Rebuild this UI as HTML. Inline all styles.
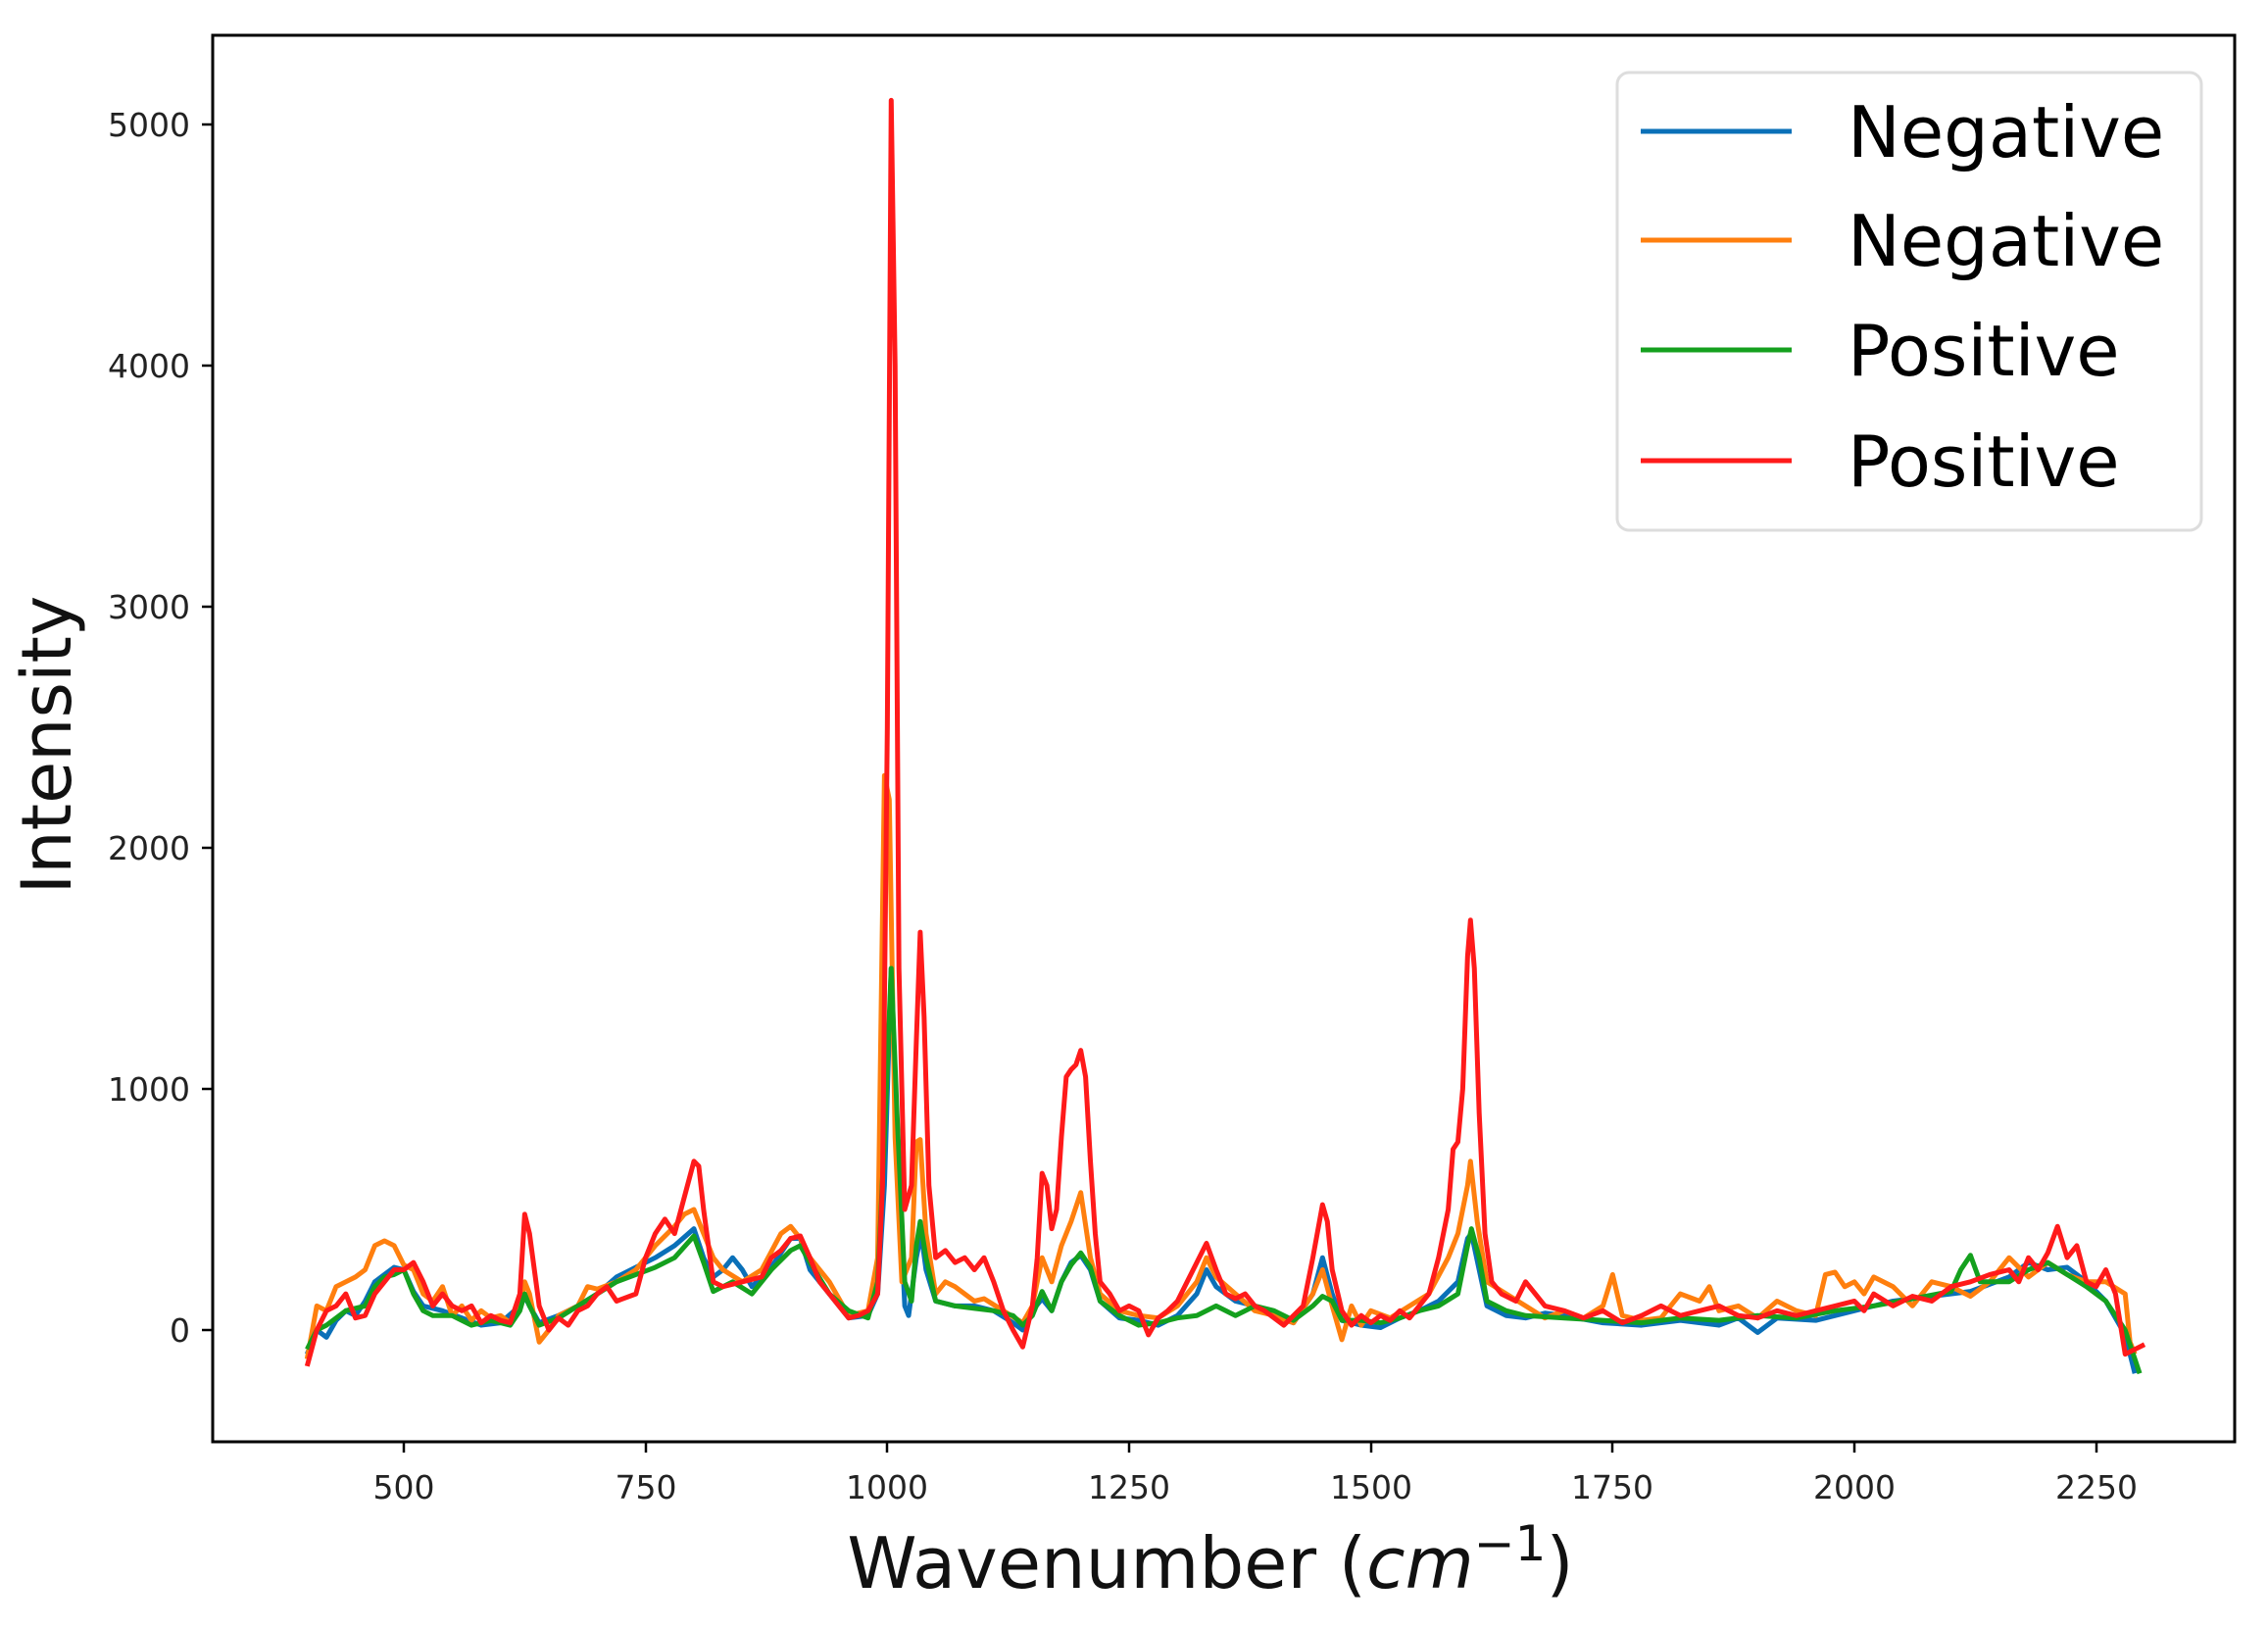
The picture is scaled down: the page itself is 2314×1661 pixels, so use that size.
<!DOCTYPE html>
<html><head><meta charset="utf-8"><style>
html,body{margin:0;padding:0;background:#fff;}
svg{display:block;font-family:"DejaVu Sans","Liberation Sans",sans-serif;}
</style></head><body>
<svg width="2314" height="1661" viewBox="0 0 2314 1661" xmlns="http://www.w3.org/2000/svg">
<rect width="2314" height="1661" fill="#fff"/>
<defs><clipPath id="c"><rect x="217" y="36" width="2063" height="1435"/></clipPath></defs>
<g clip-path="url(#c)">
<g transform="matrix(0.98667 0 0 -0.246 -81.33 1357)" fill="none" stroke-width="5" stroke-linejoin="round">
<polyline vector-effect="non-scaling-stroke" stroke="#0a70b8" points="400,-100 410,0 420,-30 430,40 440,80 450,60 460,120 470,200 480,230 490,260 500,250 510,160 520,100 540,80 560,50 580,20 600,30 620,100 625,140 630,100 640,30 660,60 680,100 700,150 720,220 740,260 760,300 780,350 800,420 810,300 820,220 830,250 840,300 850,250 860,180 880,260 900,380 910,380 920,250 940,150 960,50 980,60 990,150 997,600 1004,1500 1010,800 1018,100 1022,60 1030,300 1035,400 1040,250 1050,120 1070,100 1090,100 1110,80 1130,30 1140,0 1150,80 1160,130 1170,80 1180,200 1190,280 1200,310 1210,250 1220,120 1240,50 1260,40 1280,20 1300,60 1320,150 1330,250 1340,180 1360,120 1380,100 1400,60 1420,30 1440,150 1450,300 1460,150 1470,40 1490,20 1510,10 1530,50 1550,80 1570,120 1590,200 1600,380 1604,400 1612,250 1620,100 1640,60 1660,50 1680,70 1700,60 1740,30 1780,20 1820,40 1860,20 1880,50 1900,-10 1920,50 1960,40 2000,80 2040,120 2080,140 2120,160 2160,220 2180,280 2200,250 2220,260 2240,200 2260,120 2280,-20 2290,-180"/>
<polyline vector-effect="non-scaling-stroke" stroke="#ff7f0e" points="400,-120 410,100 420,80 430,180 440,200 450,220 460,250 470,350 480,370 490,350 500,270 510,250 520,150 530,120 540,180 550,60 560,100 570,40 580,80 590,50 600,60 610,30 620,100 625,200 630,150 640,-50 650,0 660,60 670,80 680,100 690,180 700,170 720,200 740,250 760,350 780,430 790,480 800,500 810,400 820,300 830,250 850,200 870,250 890,400 900,430 910,380 920,300 940,200 960,60 980,80 990,300 997,2300 1002,2200 1008,800 1015,200 1025,300 1030,780 1034,790 1040,400 1050,150 1060,200 1070,180 1080,150 1090,120 1100,130 1120,80 1140,30 1150,100 1160,300 1170,200 1180,350 1190,450 1200,570 1210,300 1220,150 1240,80 1260,60 1280,50 1300,100 1320,200 1330,300 1340,220 1360,150 1380,80 1400,60 1420,30 1440,150 1450,250 1460,100 1470,-40 1480,100 1490,20 1500,80 1520,50 1540,100 1560,150 1580,300 1590,400 1600,600 1603,700 1610,450 1620,200 1640,150 1660,100 1680,50 1700,80 1720,50 1740,100 1750,230 1760,60 1780,40 1800,50 1820,150 1840,120 1850,180 1860,80 1880,100 1900,50 1920,120 1940,80 1960,60 1970,230 1980,240 1990,180 2000,200 2010,150 2020,220 2040,180 2060,100 2080,200 2100,180 2120,140 2140,200 2160,300 2180,220 2200,280 2220,230 2240,200 2260,200 2280,150 2285,-50 2290,-100"/>
<polyline vector-effect="non-scaling-stroke" stroke="#14a01e" points="400,-80 410,0 420,20 430,50 440,80 450,90 460,100 470,180 480,220 490,230 500,250 510,150 520,80 530,60 550,60 570,20 590,40 610,20 620,80 625,150 630,100 640,20 660,50 680,100 700,150 720,200 740,230 760,260 780,300 800,390 810,280 820,160 840,200 860,150 880,250 900,330 910,350 920,280 940,150 960,80 980,50 990,200 997,800 1004,1500 1010,900 1018,200 1025,120 1030,350 1034,450 1040,300 1050,120 1070,100 1090,90 1110,80 1130,60 1140,20 1150,60 1160,160 1170,80 1180,200 1190,270 1200,320 1210,260 1220,120 1240,60 1260,20 1280,30 1300,50 1320,60 1340,100 1360,60 1380,100 1400,80 1420,40 1440,100 1450,140 1460,120 1470,40 1490,40 1510,30 1530,50 1550,80 1570,100 1590,150 1600,350 1604,420 1612,300 1620,120 1640,80 1660,60 1700,50 1740,40 1780,30 1820,50 1860,40 1900,60 1940,50 1980,80 2020,100 2060,130 2100,160 2110,250 2120,310 2130,200 2160,200 2180,250 2200,280 2220,230 2240,180 2260,120 2280,0 2295,-180"/>
<polyline vector-effect="non-scaling-stroke" stroke="#ff1a1a" points="400,-150 410,0 420,80 430,100 440,150 450,50 460,60 470,150 480,200 490,250 500,250 510,280 520,200 530,100 540,150 550,100 560,80 570,100 580,30 590,60 600,40 610,30 620,150 625,480 630,400 640,100 650,0 660,50 670,20 680,80 690,100 700,150 710,180 720,120 740,150 750,300 760,400 770,460 780,400 790,550 800,700 805,680 810,500 820,200 830,180 850,200 870,220 880,300 890,330 900,380 910,390 920,300 930,200 940,150 950,100 960,50 970,60 980,80 990,150 995,600 1000,2500 1004,5100 1008,4000 1012,1500 1018,500 1025,600 1030,1200 1034,1650 1038,1300 1043,600 1050,300 1060,330 1070,280 1080,300 1090,250 1100,300 1110,200 1120,80 1130,0 1140,-70 1150,100 1155,300 1160,650 1165,600 1170,420 1175,500 1180,800 1185,1050 1190,1080 1195,1100 1200,1160 1205,1050 1210,700 1215,400 1220,200 1230,150 1240,80 1250,100 1260,80 1270,-20 1280,50 1290,80 1300,120 1310,200 1320,280 1330,360 1340,250 1350,150 1360,130 1370,150 1380,100 1390,80 1400,50 1410,20 1420,60 1430,100 1440,300 1450,520 1455,450 1460,250 1470,80 1480,20 1490,60 1500,30 1510,60 1520,40 1530,80 1540,50 1550,100 1560,150 1570,300 1580,500 1585,750 1590,780 1595,1000 1600,1550 1603,1700 1607,1500 1612,900 1618,400 1625,200 1635,150 1650,120 1660,200 1670,150 1680,100 1700,80 1720,50 1740,80 1760,30 1780,60 1800,100 1820,60 1840,80 1860,100 1880,60 1900,50 1920,80 1940,60 1960,80 1980,100 2000,120 2010,80 2020,150 2040,100 2060,140 2080,120 2100,180 2120,200 2140,230 2160,250 2170,200 2180,300 2190,250 2200,320 2210,430 2220,300 2230,350 2240,200 2250,180 2260,250 2270,150 2280,-100 2290,-80 2300,-60"/>
</g>
</g>
<rect x="217" y="36" width="2063" height="1435" fill="none" stroke="#000" stroke-width="3"/>
<g stroke="#000" stroke-width="2.5">
<line x1="217" y1="1357" x2="206" y2="1357"/><line x1="217" y1="1111" x2="206" y2="1111"/><line x1="217" y1="865" x2="206" y2="865"/><line x1="217" y1="619" x2="206" y2="619"/><line x1="217" y1="373" x2="206" y2="373"/><line x1="217" y1="127" x2="206" y2="127"/>
<line x1="412" y1="1471" x2="412" y2="1482"/><line x1="659" y1="1471" x2="659" y2="1482"/><line x1="905" y1="1471" x2="905" y2="1482"/><line x1="1152" y1="1471" x2="1152" y2="1482"/><line x1="1399" y1="1471" x2="1399" y2="1482"/><line x1="1645" y1="1471" x2="1645" y2="1482"/><line x1="1892" y1="1471" x2="1892" y2="1482"/><line x1="2139" y1="1471" x2="2139" y2="1482"/>
</g>
<g font-size="33" fill="#222" text-anchor="end">
<text x="194" y="1369">0</text><text x="194" y="1123">1000</text><text x="194" y="877">2000</text><text x="194" y="631">3000</text><text x="194" y="385">4000</text><text x="194" y="139">5000</text>
</g>
<g font-size="33" fill="#222" text-anchor="middle">
<text x="412" y="1529">500</text><text x="659" y="1529">750</text><text x="905" y="1529">1000</text><text x="1152" y="1529">1250</text><text x="1399" y="1529">1500</text><text x="1645" y="1529">1750</text><text x="1892" y="1529">2000</text><text x="2139" y="1529">2250</text>
</g>
<text x="1235" y="1620" font-size="72" text-anchor="middle" fill="#111">Wavenumber (<tspan font-style="italic">cm</tspan><tspan font-size="50" dy="-28">−1</tspan><tspan dy="28">)</tspan></text>
<text transform="translate(72 760) rotate(-90)" font-size="70" text-anchor="middle" fill="#111">Intensity</text>
<rect x="1650" y="74" width="596" height="467" rx="12" fill="#fff" stroke="#ddd" stroke-width="3"/>
<g stroke-width="5">
<line x1="1674" y1="134" x2="1828" y2="134" stroke="#0a70b8"/>
<line x1="1674" y1="245" x2="1828" y2="245" stroke="#ff7f0e"/>
<line x1="1674" y1="357" x2="1828" y2="357" stroke="#14a01e"/>
<line x1="1674" y1="470" x2="1828" y2="470" stroke="#ff1a1a"/>
</g>
<g font-size="72" fill="#000">
<text x="1885" y="160">Negative</text><text x="1885" y="271">Negative</text><text x="1885" y="383">Positive</text><text x="1885" y="496">Positive</text>
</g>
</svg>
</body></html>
